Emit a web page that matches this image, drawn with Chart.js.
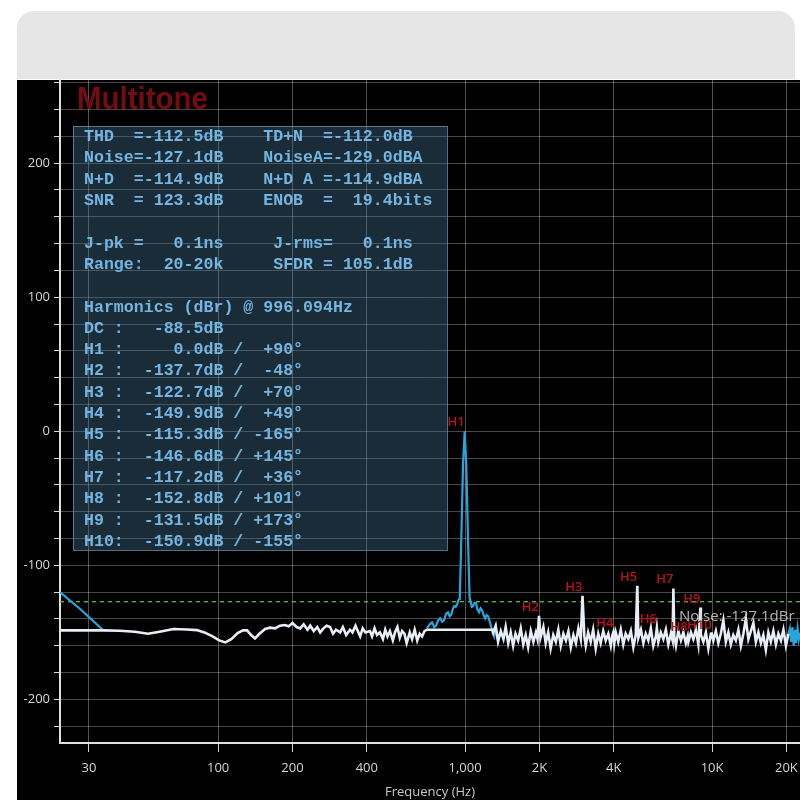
<!DOCTYPE html>
<html><head><meta charset="utf-8">
<script src="https://cdn.jsdelivr.net/npm/chart.js@4/dist/chart.umd.min.js"></script>
<style>html,body{margin:0;padding:0;background:#fff;overflow:hidden}</style>
</head><body>
<canvas id="c" width="800" height="800"></canvas>
<script>
// ---------- data ----------
const chartTitle = 'Multitone';
const xTickValues = [30, 100, 200, 400, 1000, 2000, 4000, 10000, 20000];
const xTickLabels = ['30', '100', '200', '400', '1,000', '2K', '4K', '10K', '20K'];
const xRange = [22.9, 22700];
const yRange = [-232.5, 262];

// white trace (residual spectrum, fundamental removed)
const lowFreq = [22.9, 34.3, 40, 46, 52, 58, 66, 75, 82, 88, 95, 101, 107, 113, 120, 126, 131, 136, 141, 147, 155, 162, 170, 178, 186, 193];
const lowDb   = [-148.5, -148.5, -148.8, -149.5, -151, -149.5, -147.5, -147.8, -148.3, -150, -153, -156, -157.5, -155, -150.5, -148.5, -148.5, -152, -154.5, -151, -147.5, -146.5, -147, -145, -144.5, -145.5];
const midFreq = [200, 208, 215, 222, 230, 236, 244, 252, 259, 267, 275, 284, 292, 300, 312, 320, 330, 342, 350, 360, 376, 385, 395, 412, 420, 430, 440, 452, 465, 475, 485, 496, 510, 520, 532, 544, 556, 568, 580, 597, 610, 625, 640, 655, 670, 685, 700, 1290];
const midDb   = [-143, -146, -147, -144, -148, -145, -149, -146, -150, -147, -145, -146, -151, -148, -150, -146, -152, -148, -150, -145, -153, -147, -150, -149, -153, -147, -152, -150, -155, -148, -153, -149, -156, -150, -146, -154, -149, -151, -158, -150, -155, -148, -156, -151, -153, -149, -148, -148];
const hiFreq = [1300, 1330, 1360, 1395, 1430, 1460, 1495, 1530, 1565, 1600, 1640, 1680, 1720, 1760, 1800, 1845, 1890, 1935, 1965, 1992, 2020, 2075, 2120, 2170, 2220, 2275, 2330, 2385, 2440, 2500, 2560, 2620, 2680, 2745, 2810, 2875, 2940, 2988, 3040, 3080, 3150, 3225, 3300, 3380, 3460, 3540, 3625, 3710, 3800, 3890, 3950, 3984, 4020, 4075, 4170, 4270, 4370, 4470, 4580, 4690, 4800, 4910, 4980, 5030, 5150, 5270, 5390, 5520, 5650, 5780, 5920, 5977, 6060, 6200, 6350, 6500, 6650, 6810, 6920, 6973, 7030, 7140, 7300, 7480, 7650, 7830, 7969, 8020, 8210, 8400, 8600, 8800, 8965, 9010, 9220, 9440, 9660, 9890, 9961, 10120, 10360, 10600, 10850, 11110, 11370, 11640, 11910, 12190, 12480, 12780, 13080, 13390, 13700, 14030, 14360, 14700, 15040, 15400, 15760, 16130, 16510, 16900, 17300, 17710, 18130, 18560, 19000, 19450, 19910, 20380];
const hiDb   = [-150, -145, -157, -149, -155, -146, -158, -150, -160, -151, -156, -147, -159, -152, -161, -149, -157, -150, -155, -137.7, -154, -146, -158, -150, -162, -152, -157, -148, -160, -151, -156, -149, -161, -152, -158, -147, -155, -122.7, -153, -160, -150, -157, -148, -162, -151, -158, -149, -156, -151, -160, -152, -149.9, -158, -150, -157, -148, -159, -151, -155, -149, -161, -152, -115.3, -154, -148, -158, -151, -156, -147, -160, -153, -146.6, -157, -150, -155, -148, -159, -151, -156, -117.2, -153, -160, -149, -156, -150, -158, -152.8, -157, -150, -155, -148, -159, -131.5, -152, -157, -150, -162, -151, -150.9, -156, -149, -158, -151, -141, -157, -150, -159, -152, -156, -148, -160, -151, -140, -155, -149, -143, -157, -150, -158, -152, -163, -150, -157, -149, -159, -151, -156, -148, -160, -151];

// blue trace (full spectrum, only where it differs from the white one)
const blueFreq = [22.9, 28, 34.3, null,
  700, 720, 735, 750, 763, 778, 792, 808, 822, 838, 853, 866, 878, 890, 903, 916, 929, 940, 948,
  952, 964, 981, 996, 1011, 1029, 1043,
  1052, 1065, 1077, 1092, 1108, 1122, 1139, 1155, 1172, 1188, 1205, 1222, 1240, 1258, 1274, 1292, 1310, 1322, 1335, 1348, 1360, 1373, 1386, null,
  20380, 20650, 20900, 21150, 21400, 21700, 21900, 22200, 22450, 22700];
const blueDb = [-120, -133.5, -148.5, null,
  -147, -144, -142.5, -146, -145, -141, -139.5, -142, -141, -136, -135, -138, -137, -133, -130.5, -131, -129, -126, -125,
  -124, -85, -25, 0, -25, -85, -124,
  -127, -131, -130.5, -128, -128, -133, -135, -132, -133.5, -137, -139.5, -137, -138, -142, -145.5, -150, -153, -149, -148.5, -154, -156, -152, -151.5, null,
  -151, -147, -157, -146, -160, -148, -158, -147, -155, -150];

const noiseDb = -127.1;

const harmonicNames = ['H1', 'H2', 'H3', 'H4', 'H5', 'H6', 'H7', 'H8', 'H9', 'H10'];
const harmonicFreq  = [996, 1992, 2988, 3984, 4980, 5977, 6973, 7969, 8965, 9961];
const harmonicDb    = [0.0, -137.7, -122.7, -149.9, -115.3, -146.6, -117.2, -152.8, -131.5, -150.9];
const harmonicPhase = ['+90', '-48', '+70', '+49', '-165', '+145', '+36', '+101', '+173', '-155'];
const dcDb = '-88.5';
const fundamentalHz = '996.094';

const statLines = [
  'THD  =-112.5dB    TD+N  =-112.0dB',
  'Noise=-127.1dB    NoiseA=-129.0dBA',
  'N+D  =-114.9dB    N+D A =-114.9dBA',
  'SNR  = 123.3dB    ENOB  =  19.4bits',
  '',
  'J-pk =   0.1ns     J-rms=   0.1ns',
  'Range:  20-20k     SFDR = 105.1dB',
  ''
];

// ---------- build ----------
const whiteFreq = lowFreq.concat(midFreq, hiFreq);
const whiteDb = lowDb.concat(midDb, hiDb);
const pts = (xs, ys) => xs.map((f, i) => ({x: f === null ? NaN : f, y: ys[i]}));

const textLines = statLines.concat([
  'Harmonics (dBr) @ ' + fundamentalHz + 'Hz',
  'DC :' + dcDb.padStart(8) + 'dB'
]).concat(harmonicNames.map((n, i) =>
  (n.length === 2 ? n + ' :' : n + ':') + harmonicDb[i].toFixed(1).padStart(8) + 'dB / ' + harmonicPhase[i].padStart(4) + '\u00b0'
));

const frame = {
  id: 'frame',
  beforeDraw(chart) {
    const ctx = chart.ctx;
    ctx.save();
    ctx.fillStyle = '#ffffff';
    ctx.fillRect(0, 0, 800, 800);
    ctx.fillStyle = '#e6e6e6';
    ctx.beginPath();
    ctx.roundRect(17, 11, 778, 68, [17, 17, 0, 0]);
    ctx.fill();
    ctx.fillStyle = '#000000';
    ctx.fillRect(17, 80, 783, 720);
    ctx.restore();
  },
  afterDatasetsDraw(chart) {
    const {ctx, scales: {x, y}} = chart;
    ctx.save();
    // stats box
    ctx.fillStyle = 'rgba(70,115,150,0.38)';
    ctx.fillRect(73, 126, 374, 424);
    ctx.strokeStyle = 'rgba(120,155,185,0.7)';
    ctx.lineWidth = 1;
    ctx.strokeRect(73.5, 126.5, 374, 424);
    ctx.fillStyle = '#74b6e2';
    ctx.font = 'bold 16.6px "Liberation Mono", "DejaVu Sans Mono", monospace';
    ctx.textBaseline = 'middle';
    ctx.textAlign = 'left';
    textLines.forEach((t, i) => ctx.fillText(t, 84, 137 + i * 21.3));
    // harmonic labels
    ctx.font = '600 13px "Open Sans"';
    ctx.fillStyle = '#b8121c';
    ctx.textAlign = 'right';
    ctx.textBaseline = 'alphabetic';
    harmonicNames.forEach((n, i) => {
      ctx.fillText(n, x.getPixelForValue(harmonicFreq[i]), y.getPixelForValue(harmonicDb[i]) - 5);
    });
    // noise label
    ctx.font = '15px "Open Sans"';
    ctx.fillStyle = 'rgba(200,200,200,0.9)';
    ctx.textAlign = 'left';
    ctx.fillText('Noise: ' + noiseDb.toFixed(1) + 'dBr', 679, y.getPixelForValue(noiseDb) + 19);
    // title
    ctx.font = 'bold 32px "Liberation Sans"';
    const w = ctx.measureText(chartTitle).width;
    ctx.translate(77, 109);
    ctx.scale(131 / w, 1);
    ctx.fillStyle = '#740c12';
    ctx.fillText(chartTitle, 0, 0);
    ctx.restore();
  }
};

new Chart(document.getElementById('c'), {
  type: 'scatter',
  data: {
    datasets: [
      {label: 'Residual', data: pts(whiteFreq, whiteDb), showLine: true, borderColor: '#e8eef5', borderWidth: 2.6, pointRadius: 0, tension: 0},
      {label: 'Spectrum', data: pts(blueFreq, blueDb), showLine: true, borderColor: '#2ba3dc', borderWidth: 2.2, pointRadius: 0, spanGaps: false},
      {label: 'Noise', data: [{x: xRange[0], y: noiseDb}, {x: xRange[1], y: noiseDb}], showLine: true, borderColor: '#4fb832', borderWidth: 1.4, borderDash: [4, 4], pointRadius: 0}
    ]
  },
  options: {
    responsive: false,
    animation: false,
    devicePixelRatio: 1,
    layout: {padding: {top: 80, left: 0, right: 0, bottom: 0}},
    plugins: {legend: {display: false}, tooltip: {enabled: false}, title: {display: false}},
    scales: {
      x: {
        type: 'logarithmic', min: xRange[0], max: xRange[1],
        afterBuildTicks: s => { s.ticks = xTickValues.map(v => ({value: v})); },
        afterFit: s => { s.height = 57; s.paddingLeft = 0; s.paddingRight = 0; },
        ticks: {
          autoSkip: false, maxRotation: 0, color: '#d6d6d6', padding: 8,
          font: {family: 'Open Sans', size: 13},
          callback: v => xTickLabels[xTickValues.indexOf(v)] ?? ''
        },
        grid: {color: 'rgba(255,255,255,0.32)', tickLength: 9, tickColor: '#d6d6d6'},
        border: {color: '#e0e0e0', width: 2},
        title: {display: true, text: 'Frequency (Hz)', color: '#c8c8c8', font: {family: 'Open Sans', size: 13}, padding: {top: 0, bottom: 0}}
      },
      y: {
        type: 'linear', min: yRange[0], max: yRange[1],
        afterFit: s => { s.width = 60; s.paddingTop = 0; s.paddingBottom = 0; },
        ticks: {
          stepSize: 20, includeBounds: false, color: '#d6d6d6', padding: 4,
          font: {family: 'Open Sans', size: 13},
          callback: v => (Math.round(v) % 100 === 0 ? String(Math.round(v)) : '')
        },
        grid: {color: 'rgba(255,255,255,0.28)', tickLength: 6, tickColor: '#d6d6d6'},
        border: {color: '#e0e0e0', width: 2}
      }
    }
  },
  plugins: [frame]
});
</script>
</body></html>
